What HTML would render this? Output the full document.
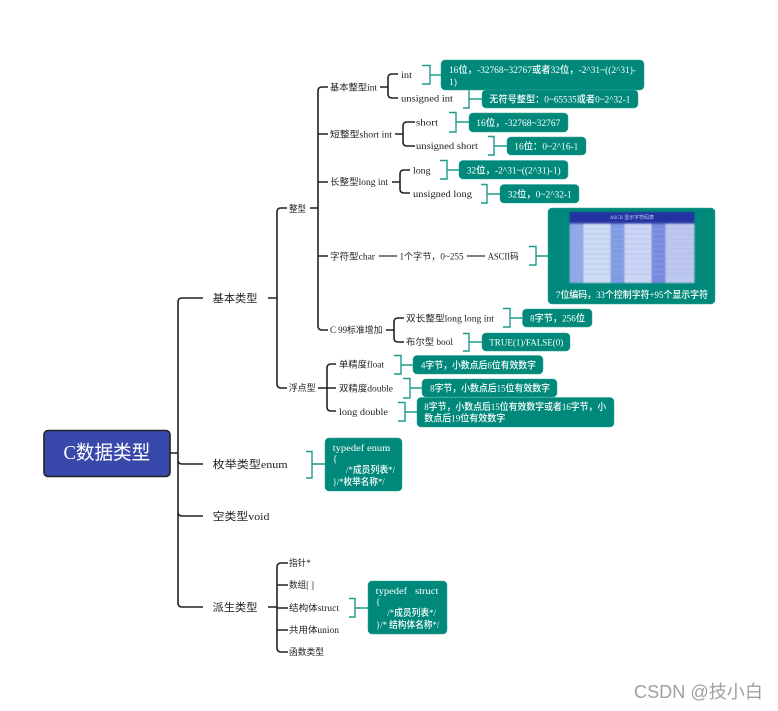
<!DOCTYPE html>
<html><head><meta charset="utf-8"><style>
html,body{margin:0;padding:0;background:#fff}
svg{display:block}
text{font-family:"Liberation Serif","Noto Sans CJK SC",serif;fill:#222}
.s{font-size:9px}
.m{font-size:11px}
.w{font-size:9.5px;fill:#fff;font-weight:500}
.k{fill:none;stroke:#222;stroke-width:1.6}
.g{fill:none;stroke:#555;stroke-width:1.4}
.b{fill:none;stroke:#1f9a8b;stroke-width:1.4}
.t{fill:#00897a;stroke:#2fa596;stroke-width:.5}
</style></head><body>
<svg width="778" height="711" viewBox="0 0 778 711" xmlns="http://www.w3.org/2000/svg">
<defs><filter id="bl" x="-5%" y="-5%" width="110%" height="110%"><feGaussianBlur stdDeviation="0.7"/></filter></defs>
<!-- root connectors -->
<path class="k" d="M170 453H178M203 298H182Q178 298 178 302V603Q178 607 182 607H203M178 460Q178 464 182 464H203M178 512Q178 516 182 516H203" stroke-width="1.8"/>
<rect x="44" y="430.500" width="126" height="46" rx="4" fill="#3949ab" stroke="#222" stroke-width="1.6"/>
<text x="63.500" y="459" textLength="86.700" lengthAdjust="spacingAndGlyphs" style="font-size:19.500px;fill:#fff">C数据类型</text>

<text class="m" x="212.700" y="302" textLength="44.700" lengthAdjust="spacingAndGlyphs">基本类型</text>
<text class="m" x="212.700" y="468" textLength="75" lengthAdjust="spacingAndGlyphs">枚举类型enum</text>
<text class="m" x="212.700" y="520" textLength="56.700" lengthAdjust="spacingAndGlyphs">空类型void</text>
<text class="m" x="212.700" y="611" textLength="44.700" lengthAdjust="spacingAndGlyphs">派生类型</text>

<!-- level 2 -->
<path class="k" d="M268 298H277M287 208H281Q277 208 277 212V384Q277 388 281 388H287"/>
<path class="k" d="M268 607H277M288 563H281Q277 563 277 567V648Q277 652 281 652H288M277 585H288M277 608H288M277 630H288"/>
<text class="s" x="289" y="212" textLength="17" lengthAdjust="spacingAndGlyphs">整型</text>
<text class="s" x="288.700" y="391" textLength="27" lengthAdjust="spacingAndGlyphs">浮点型</text>
<text class="s" x="289" y="566" textLength="21.700" lengthAdjust="spacingAndGlyphs">指针*</text>
<text class="s" x="289" y="588" textLength="25" lengthAdjust="spacingAndGlyphs">数组[ ]</text>
<text class="s" x="289" y="611" textLength="50" lengthAdjust="spacingAndGlyphs">结构体struct</text>
<text class="s" x="289" y="633" textLength="50" lengthAdjust="spacingAndGlyphs">共用体union</text>
<text class="s" x="289" y="655" textLength="35" lengthAdjust="spacingAndGlyphs">函数类型</text>

<!-- 整型 -->
<path class="k" d="M310 208H318M328 87H322Q318 87 318 91V326Q318 330 322 330H328M318 134H328M318 182H328M318 256H328"/>
<text class="s" x="330" y="90.500" textLength="47" lengthAdjust="spacingAndGlyphs">基本整型int</text>
<text class="s" x="330" y="137.500" textLength="62" lengthAdjust="spacingAndGlyphs">短整型short int</text>
<text class="s" x="330" y="185" textLength="58" lengthAdjust="spacingAndGlyphs">长整型long int</text>
<text class="s" x="330" y="259.500" textLength="45" lengthAdjust="spacingAndGlyphs">字符型char</text>
<text class="s" x="330" y="333" textLength="52.500" lengthAdjust="spacingAndGlyphs">C 99标准增加</text>

<path class="k" d="M380 87H388M398 74H392Q388 74 388 78V94Q388 98 392 98H398"/>
<text class="s" x="401" y="78" textLength="11" lengthAdjust="spacingAndGlyphs">int</text>
<text class="s" x="401" y="101.500" textLength="52" lengthAdjust="spacingAndGlyphs">unsigned int</text>
<path class="k" d="M395 134H403M415 122H407Q403 122 403 126V142Q403 146 407 146H415"/>
<text class="s" x="416" y="125.500" textLength="22" lengthAdjust="spacingAndGlyphs">short</text>
<text class="s" x="416" y="149" textLength="62" lengthAdjust="spacingAndGlyphs">unsigned short</text>
<path class="k" d="M392 182H400M410 170H404Q400 170 400 174V189Q400 193 404 193H410"/>
<text class="s" x="413" y="173.500" textLength="17.500" lengthAdjust="spacingAndGlyphs">long</text>
<text class="s" x="413" y="197" textLength="59" lengthAdjust="spacingAndGlyphs">unsigned long</text>

<path class="g" d="M379 256H397M467 256H485"/>
<text class="s" x="399.500" y="259.500" textLength="64" lengthAdjust="spacingAndGlyphs">1个字节，0~255</text>
<text class="s" x="487.700" y="259.500" textLength="31" lengthAdjust="spacingAndGlyphs">ASCII码</text>

<path class="k" d="M386 330H394M404 318H398Q394 318 394 322V338Q394 342 398 342H404"/>
<text class="s" x="406" y="321.500" textLength="88" lengthAdjust="spacingAndGlyphs">双长整型long long int</text>
<text class="s" x="406" y="345" textLength="47" lengthAdjust="spacingAndGlyphs">布尔型 bool</text>

<path class="k" d="M318 388H327M336 364H331Q327 364 327 368V407Q327 411 331 411H336M327 388H336"/>
<text class="s" x="339" y="367.500" textLength="45" lengthAdjust="spacingAndGlyphs">单精度float</text>
<text class="s" x="339" y="391.500" textLength="54" lengthAdjust="spacingAndGlyphs">双精度double</text>
<text class="s" x="339" y="415" textLength="49" lengthAdjust="spacingAndGlyphs">long double</text>

<!-- brackets -->
<path class="b" d="M422 65.500H430V84H422M430 75H441"/>
<path class="b" d="M463 108H469V90M469 99H482"/>
<path class="b" d="M449 112.500H456V132H449M456 122H469"/>
<path class="b" d="M488 136.500H494V155H488M494 146H507"/>
<path class="b" d="M440 160.500H447V179H440M447 170H459"/>
<path class="b" d="M481 184.500H487V203H481M487 194H500"/>
<path class="b" d="M529 246.500H536V265H529M536 256H548"/>
<path class="b" d="M503 308.500H510V327H503M510 318H522"/>
<path class="b" d="M463 333.500H469V351H463M469 342H482"/>
<path class="b" d="M394 355.500H401V374H394M401 365H413"/>
<path class="b" d="M403 378.500H410V398H403M410 388H422"/>
<path class="b" d="M398 402.500H405V421H398M405 412H417"/>
<path class="b" d="M306 451.500H312V478H306M312 464H325"/>
<path class="b" d="M349 598.500H355V617H349M355 608H368"/>

<!-- teal boxes -->
<rect class="t" x="441" y="60" width="203" height="30" rx="4"/>
<text class="w" x="449" y="73" textLength="187" lengthAdjust="spacingAndGlyphs">16位，-32768~32767或者32位，-2^31~((2^31)-</text>
<text class="w" x="449" y="85" textLength="8" lengthAdjust="spacingAndGlyphs">1)</text>
<rect class="t" x="482" y="90" width="156" height="18" rx="4"/>
<text class="w" x="489.300" y="102.500" textLength="141" lengthAdjust="spacingAndGlyphs">无符号整型：0~65535或者0~2^32-1</text>
<rect class="t" x="469" y="113" width="99" height="19" rx="4"/>
<text class="w" x="476.300" y="126" textLength="84" lengthAdjust="spacingAndGlyphs">16位，-32768~32767</text>
<rect class="t" x="507" y="137" width="79" height="18" rx="4"/>
<text class="w" x="514.300" y="149.500" textLength="64" lengthAdjust="spacingAndGlyphs">16位：0~2^16-1</text>
<rect class="t" x="459" y="160.500" width="109" height="18.500" rx="4"/>
<text class="w" x="466.700" y="173.500" textLength="94" lengthAdjust="spacingAndGlyphs">32位，-2^31~((2^31)-1)</text>
<rect class="t" x="500" y="184.500" width="79" height="18.500" rx="4"/>
<text class="w" x="507.700" y="197.500" textLength="64" lengthAdjust="spacingAndGlyphs">32位，0~2^32-1</text>

<rect class="t" x="548" y="208" width="167" height="96" rx="4"/>
<g filter="url(#bl)">
<rect x="569.500" y="212" width="125" height="71" fill="#b9c8ee"/>
<rect x="569.500" y="212" width="125" height="10" fill="#2333a0"/>
<rect x="569.500" y="222" width="125" height="2" fill="#3a4ab0"/>
<rect x="569.500" y="224" width="14" height="59" fill="#8ea8e8"/>
<rect x="583.500" y="224" width="27" height="59" fill="#cfdcf5"/>
<rect x="610.500" y="224" width="14" height="59" fill="#7f9be4"/>
<rect x="624.500" y="224" width="27" height="59" fill="#ccd6f4"/>
<rect x="651.500" y="224" width="14" height="59" fill="#7489e0"/>
<rect x="665.500" y="224" width="29" height="59" fill="#bdc8f0"/>
<path d="M569.500 229H694.500M569.500 234H694.500M569.500 239H694.500M569.500 244H694.500M569.500 249H694.500M569.500 254H694.500M569.500 259H694.500M569.500 264H694.500M569.500 269H694.500M569.500 274H694.500" stroke="#9fb0de" stroke-width=".5" fill="none"/>
</g>
<text x="632" y="219" text-anchor="middle" style="font-size:5px;fill:#c8d0f0">ASCII 显示字符码表</text>
<text class="w" x="556" y="298" textLength="152" lengthAdjust="spacingAndGlyphs">7位编码，33个控制字符+95个显示字符</text>

<rect class="t" x="522.500" y="309" width="69.500" height="18" rx="4"/>
<text class="w" x="530" y="321.500" textLength="55" lengthAdjust="spacingAndGlyphs">8字节，256位</text>
<rect class="t" x="482" y="333" width="88" height="18" rx="4"/>
<text class="w" x="489.300" y="345.500" textLength="74" lengthAdjust="spacingAndGlyphs">TRUE(1)/FALSE(0)</text>
<rect class="t" x="413" y="355.500" width="130" height="18.500" rx="4"/>
<text class="w" x="421" y="368.500" textLength="115" lengthAdjust="spacingAndGlyphs">4字节，小数点后6位有效数字</text>
<rect class="t" x="422" y="379" width="135" height="18" rx="4"/>
<text class="w" x="430" y="391.500" textLength="120" lengthAdjust="spacingAndGlyphs">8字节，小数点后15位有效数字</text>
<rect class="t" x="417" y="397.500" width="197" height="29.500" rx="4"/>
<text class="w" x="424.300" y="410" textLength="182" lengthAdjust="spacingAndGlyphs">8字节，小数点后15位有效数字或者16字节，小</text>
<text class="w" x="424.300" y="421.500" textLength="81" lengthAdjust="spacingAndGlyphs">数点后19位有效数字</text>

<rect class="t" x="325" y="438" width="77" height="53" rx="4"/>
<text class="w" x="332.700" y="451" textLength="57.700" lengthAdjust="spacingAndGlyphs">typedef enum</text>
<text class="w" x="332.700" y="462">{</text>
<text class="w" x="346" y="473" textLength="49" lengthAdjust="spacingAndGlyphs">/*成员列表*/</text>
<text class="w" x="332.700" y="485" textLength="52" lengthAdjust="spacingAndGlyphs">}/*枚举名称*/</text>

<rect class="t" x="368" y="581" width="79" height="53" rx="4"/>
<text class="w" x="375.700" y="594" textLength="62.700" lengthAdjust="spacingAndGlyphs">typedef&#160;&#160; struct</text>
<text class="w" x="375.700" y="605">{</text>
<text class="w" x="387.300" y="616" textLength="48.700" lengthAdjust="spacingAndGlyphs">/*成员列表*/</text>
<text class="w" x="376" y="628" textLength="63.300" lengthAdjust="spacingAndGlyphs">}/* 结构体名称*/</text>

<text x="634" y="698" textLength="129" lengthAdjust="spacingAndGlyphs" style='font-family:"Liberation Sans","Noto Sans CJK SC",sans-serif;font-size:18px;fill:#a0a0a0'>CSDN @技小白</text>
</svg>
</body></html>
